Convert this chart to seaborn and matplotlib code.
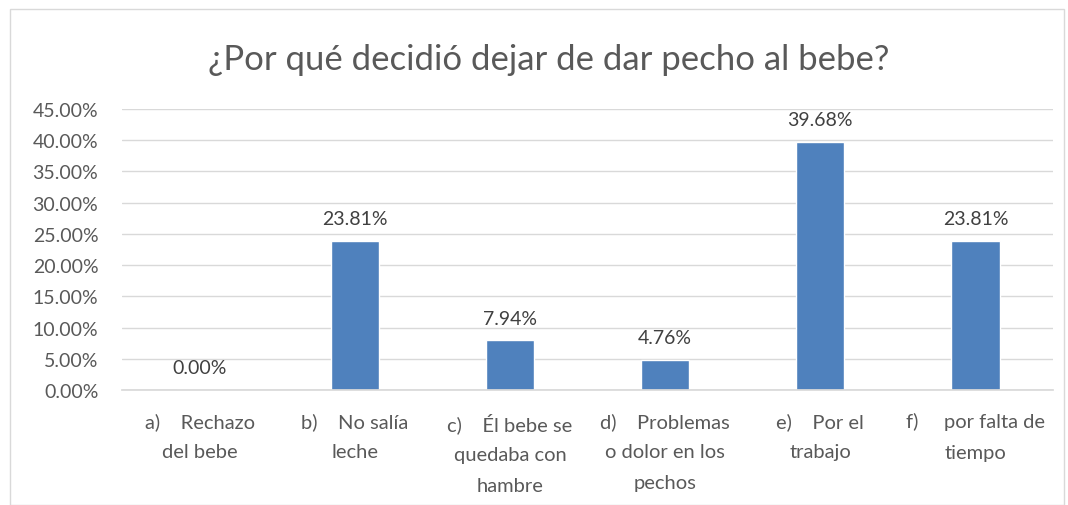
import matplotlib
matplotlib.use("Agg")
import matplotlib.pyplot as plt
import seaborn as sns
import pandas as pd
from matplotlib.patches import Rectangle

categories = [
    "a)    Rechazo\ndel bebe",
    "b)    No salía\nleche",
    "c)    Él bebe se\nquedaba con\nhambre",
    "d)    Problemas\no dolor en los\npechos",
    "e)    Por el\ntrabajo",
    "f)     por falta de\ntiempo",
]
values = [0.00, 23.81, 7.94, 4.76, 39.68, 23.81]
title = "¿Por qué decidió dejar de dar pecho al bebe?"
yticks = [0, 5, 10, 15, 20, 25, 30, 35, 40, 45]

sns.set_theme(style="white")
plt.rcParams['font.family'] = ['Lato', 'DejaVu Sans']

grey = "#595959"
df = pd.DataFrame({"cat": categories, "val": values})

fig = plt.figure(figsize=(10.68, 5.06), dpi=100)
ax = fig.add_axes([0.1142, 0.2273, 0.8718, 0.5553])
sns.barplot(data=df, x="cat", y="val", color="#4f81bd", saturation=1, width=0.31, ax=ax)

ax.set_ylim(0, 45)
ax.set_yticks(yticks)
ax.set_yticklabels([f"{v:.2f}%" for v in yticks], color=grey, fontsize=14)
ax.yaxis.grid(True, color="#d9d9d9", linewidth=1)
ax.set_axisbelow(True)
for s in ["top", "right", "left"]:
    ax.spines[s].set_visible(False)
ax.spines["bottom"].set_color("#d9d9d9")
ax.tick_params(axis="y", length=0, pad=17)
ax.tick_params(axis="x", length=0, pad=16)
ax.set_xlabel("")
ax.set_ylabel("")
ax.set_xticks(range(len(categories)))
ax.set_xticklabels(categories, color=grey, fontsize=14.5, linespacing=1.95)

for i, v in enumerate(values):
    ax.annotate(f"{v:.2f}%", (i, v), xytext=(0, 10), textcoords="offset points",
                ha="center", va="bottom", color="#404040", fontsize=14)

fig.text(0.514, 0.881, title, ha="center", va="center", color=grey, fontsize=25)
fig.patches.append(Rectangle((10/1068, 0), 1054/1068, 496/506, transform=fig.transFigure,
                             fill=False, edgecolor="#d9d9d9", linewidth=1))
fig.savefig("out.png", dpi=100)
